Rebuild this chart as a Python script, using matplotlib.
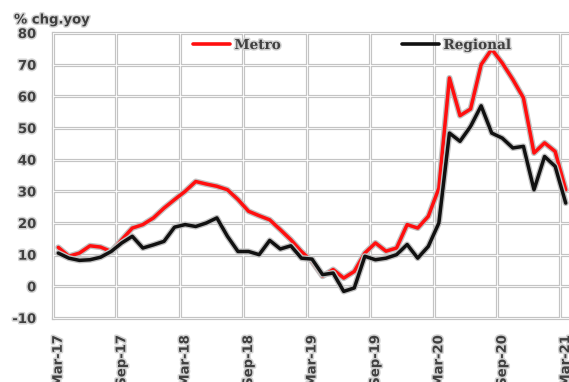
import matplotlib
matplotlib.use("Agg")
import matplotlib.pyplot as plt
import matplotlib.patheffects as pe
import numpy as np
import pandas as pd

# Monthly year-on-year change, Mar-2017 to Mar-2021
months = pd.date_range("2017-03-01", "2021-03-01", freq="MS")

metro = [12.3, 9.5, 10.5, 12.8, 12.4, 11.0, 14.7, 18.4, 19.5, 21.6,
         24.7, 27.4, 30.0, 33.1, 32.3, 31.6, 30.5, 27.4, 23.7, 22.3,
         21.0, 17.9, 14.7, 11.0, 7.9, 3.2, 5.3, 2.6, 4.7, 10.5,
         13.7, 11.1, 12.1, 19.5, 18.4, 22.1, 31.0, 65.8, 53.9, 56.0,
         70.0, 74.9, 70.5, 65.3, 59.5, 42.1, 45.3, 42.6, 30.5]

regional = [10.5, 8.9, 8.2, 8.4, 9.2, 11.0, 13.7, 15.8, 12.1, 13.1,
            14.2, 18.7, 19.5, 18.9, 20.0, 21.6, 15.8, 11.0, 11.0, 10.0,
            14.5, 11.8, 12.8, 8.9, 8.6, 3.7, 4.2, -1.6, -0.5, 9.5,
            8.4, 8.9, 10.0, 13.2, 8.9, 12.6, 20.0, 48.4, 45.8, 50.5,
            57.0, 48.4, 46.8, 43.7, 44.2, 30.5, 41.0, 37.9, 26.3]

y_ticks = list(range(-10, 81, 10))
tick_step = 6
x_labels = [d.strftime("%b-%y") for d in months]

W, H = 569, 382
fig = plt.figure(figsize=(W / 100, H / 100), dpi=100)
fig.patch.set_facecolor("white")

left_px, right_px, top_px, bottom_px = 53, 571, 33, 318
ax = fig.add_axes([left_px / W, 1 - bottom_px / H,
                   (right_px - left_px) / W, (bottom_px - top_px) / H])
ax.set_facecolor("white")

x = np.arange(len(months))
ax.set_xlim(-0.5, len(months) - 0.5)
ax.set_ylim(-10, 80)

# double-stroke grid: grey band with a white core
grid_grey = "#c4c4c4"
v_bounds = np.arange(-0.5, len(months) + 6, tick_step)
for xv in v_bounds:
    ax.axvline(xv, color=grid_grey, lw=2.3, zorder=1, clip_on=False if xv == -0.5 else True)
    ax.axvline(xv, color="white", lw=0.6, zorder=1.1)
for yv in y_ticks:
    ax.axhline(yv, color=grid_grey, lw=2.3, zorder=1, clip_on=False)
    ax.axhline(yv, color="white", lw=0.6, zorder=1.1, clip_on=False)

for s in ax.spines.values():
    s.set_visible(False)

halo = [pe.Stroke(linewidth=4.4, foreground="#c2c2c2"), pe.Normal()]
ax.plot(x, metro, color="#ff0f0f", lw=2.5, label="Metro", zorder=3,
        path_effects=halo, solid_joinstyle="round", solid_capstyle="round")
ax.plot(x, regional, color="#111111", lw=2.5, label="Regional", zorder=4,
        path_effects=halo, solid_joinstyle="round", solid_capstyle="round")

text_fx = [pe.withStroke(linewidth=2.2, foreground="#d2d2d2")]
tick_font = dict(family="DejaVu Sans", weight="bold", size=9.5, color="#404040")

ax.set_yticks(y_ticks)
ax.set_yticklabels([str(v) for v in y_ticks], **tick_font)
ax.set_xticks(x[::tick_step])
ax.set_xticklabels(x_labels[::tick_step], rotation=90, va="top", ha="center", **tick_font)
ax.tick_params(axis="both", length=0)
ax.tick_params(axis="y", pad=12)
ax.tick_params(axis="x", pad=12)
for t in ax.get_xticklabels() + ax.get_yticklabels():
    t.set_path_effects(text_fx)

fig.text(14 / W, 1 - 20 / H, "% chg.yoy", ha="left", va="center",
         path_effects=text_fx, **tick_font)

leg = ax.legend(loc="center left", bbox_to_anchor=(193 / W, 1 - 45 / H),
                bbox_transform=fig.transFigure, ncol=2, frameon=False,
                handlelength=2.7, handletextpad=0.35, columnspacing=8.9,
                borderpad=0, borderaxespad=0,
                prop=dict(family="DejaVu Serif", weight="bold", size=9.8))
for t in leg.get_texts():
    t.set_color("#404040")
    t.set_path_effects(text_fx)
for h in leg.get_lines():
    h.set_path_effects([])
    h.set_linewidth(2.6)

fig.savefig("out.png", dpi=100, facecolor="white")
